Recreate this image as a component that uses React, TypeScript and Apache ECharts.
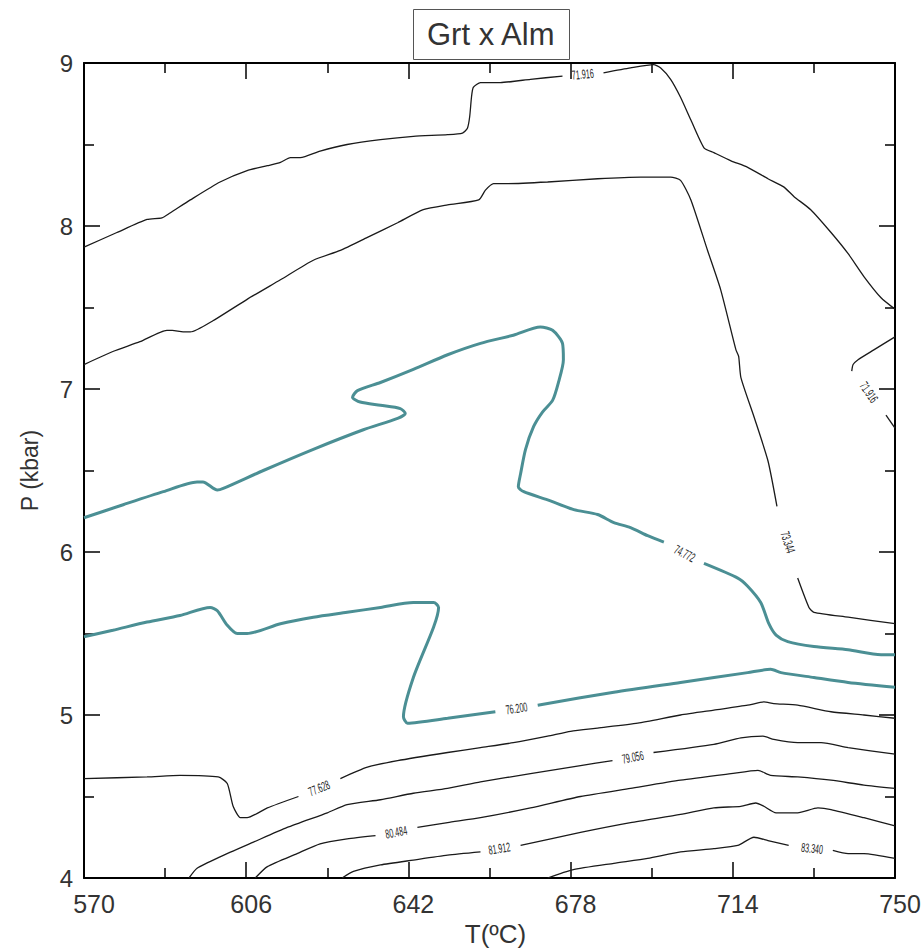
import React, { useEffect, useRef } from "react";
import * as echarts from "echarts";

// Axis ticks
const tempTicks = [570, 606, 642, 678, 714, 750];
const tempMinorTicks = [588, 624, 660, 696, 732];
const tempRange = [570, 750];
const pressureRange = [4, 9];

// Contour lines: [T (ºC), P (kbar)]; null marks the gap left for the inline label
type Pt = [number, number] | null;

const iso71916top: Pt[] = [
  [570, 7.87], [577.3, 7.96], [584.0, 8.04], [587.3, 8.05], [589.1, 8.08], [593.6, 8.16], [600.2, 8.27],
  [606.2, 8.34], [610.7, 8.37], [613.6, 8.39], [615.8, 8.42], [618.0, 8.42], [622.4, 8.46], [628.4, 8.5],
  [635.8, 8.53], [643.1, 8.55], [650.7, 8.56], [654.0, 8.57], [655.1, 8.6], [655.6, 8.67], [656.0, 8.79],
  [656.4, 8.85], [658.0, 8.88], [662.4, 8.88], [669.1, 8.9], [676.2, 8.92], null,
  [685.3, 8.94], [691.3, 8.97], [696.4, 8.99], [698.0, 8.97], [700.2, 8.9], [702.4, 8.79], [704.7, 8.65],
  [707.6, 8.48], [709.8, 8.45], [713.6, 8.4], [717.3, 8.36], [721.8, 8.29], [725.3, 8.24], [727.6, 8.18],
  [731.3, 8.1], [735.8, 7.96], [739.6, 7.83], [743.1, 7.69], [746.9, 7.56], [750, 7.49],
];

const iso73344: Pt[] = [
  [570, 7.15], [576.4, 7.23], [582.4, 7.29], [588.4, 7.36], [589.6, 7.36], [592.0, 7.35], [593.6, 7.35],
  [598.7, 7.42], [606.2, 7.55], [613.6, 7.67], [620.9, 7.79], [626.9, 7.85], [632.9, 7.93], [639.6, 8.02],
  [645.3, 8.1], [650.7, 8.13], [657.6, 8.16], [659.1, 8.22], [660.9, 8.26], [664.0, 8.26], [672.9, 8.27],
  [684.0, 8.29], [693.6, 8.3], [700.2, 8.3], [702.4, 8.28], [704.7, 8.16], [708.4, 7.85], [711.3, 7.61],
  [714.7, 7.24], [715.3, 7.2], [715.8, 7.07], [718.7, 6.83], [721.8, 6.56], [723.8, 6.28], null,
  [728.4, 5.84], [730.9, 5.66], [732.0, 5.63], [739.6, 5.6], [750, 5.56],
];

const iso71916right: Pt[] = [
  [750, 7.32], [745.3, 7.24], [741.8, 7.18], [740.7, 7.15], [740.4, 7.11], null,
  [748.0, 6.84], [750, 6.76],
];

const iso74772: Pt[] = [
  [570, 6.21], [578.7, 6.29], [587.6, 6.37], [595.1, 6.43], [596.4, 6.43], [599.6, 6.38], [600.9, 6.39],
  [609.8, 6.5], [620.9, 6.63], [632.0, 6.75], [639.6, 6.82], [641.3, 6.85], [640.2, 6.88], [635.8, 6.9],
  [631.3, 6.92], [629.6, 6.95], [630.7, 6.99], [635.8, 7.04], [643.1, 7.12], [650.7, 7.21], [658.0, 7.28],
  [665.3, 7.33], [671.3, 7.38], [674.0, 7.36], [676.2, 7.28], [676.4, 7.18], [675.3, 7.04], [674.0, 6.93],
  [671.8, 6.86], [669.8, 6.77], [668.0, 6.63], [666.9, 6.48], [666.4, 6.4], [667.6, 6.37], [672.9, 6.32],
  [678.7, 6.26], [684.0, 6.23], [687.6, 6.18], [691.3, 6.15], [695.1, 6.1], [698.7, 6.06], null,
  [707.6, 5.93], [715.1, 5.84], [717.3, 5.79], [720.2, 5.69], [722.0, 5.56], [723.6, 5.49], [726.2, 5.45],
  [732.0, 5.42], [739.6, 5.4], [746.9, 5.37], [750, 5.37],
];

const iso76200: Pt[] = [
  [570, 5.48], [576.4, 5.52], [584.0, 5.57], [591.3, 5.61], [598.0, 5.66], [599.6, 5.64], [601.8, 5.55],
  [604.0, 5.5], [606.2, 5.5], [613.6, 5.56], [620.9, 5.6], [628.4, 5.63], [635.8, 5.66], [643.1, 5.69],
  [647.6, 5.69], [648.7, 5.66], [647.6, 5.54], [643.1, 5.23], [640.9, 4.99], [641.8, 4.95], [650.7, 4.98],
  [661.3, 5.02], null,
  [670.7, 5.06], [687.6, 5.14], [702.4, 5.2], [717.3, 5.26], [722.4, 5.28], [724.7, 5.26], [732.0, 5.23],
  [739.6, 5.2], [750, 5.17],
];

const iso77628: Pt[] = [
  [570, 4.61], [584.0, 4.62], [591.3, 4.63], [599.8, 4.62], [601.8, 4.58], [603.1, 4.44], [604.7, 4.37],
  [606.2, 4.37], [610.7, 4.43], [617.6, 4.5], null,
  [626.9, 4.61], [632.9, 4.68], [639.6, 4.72], [650.7, 4.77], [658.0, 4.8], [665.3, 4.83], [672.9, 4.87],
  [678.0, 4.9], [684.0, 4.92], [692.9, 4.95], [702.4, 5.0], [709.8, 5.03], [717.3, 5.06], [720.9, 5.08],
  [723.1, 5.07], [728.4, 5.06], [735.8, 5.02], [743.1, 5.0], [750, 4.98],
];

const iso79056: Pt[] = [
  [593.3, 4.0], [595.1, 4.06], [600.2, 4.13], [607.6, 4.22], [615.1, 4.31], [624.0, 4.4], [628.4, 4.45],
  [635.8, 4.48], [643.1, 4.52], [650.7, 4.55], [658.0, 4.59], [669.1, 4.64], [680.2, 4.69], [687.3, 4.72], null,
  [696.4, 4.77], [709.8, 4.82], [715.8, 4.86], [720.7, 4.87], [723.1, 4.85], [728.4, 4.83], [733.6, 4.83],
  [739.6, 4.8], [750, 4.76],
];

const iso80484: Pt[] = [
  [608.0, 4.0], [610.7, 4.07], [617.3, 4.15], [622.4, 4.21], [628.4, 4.24], [634.7, 4.26], null,
  [644.0, 4.31], [650.7, 4.34], [658.0, 4.37], [669.1, 4.43], [680.2, 4.5], [691.3, 4.55], [702.4, 4.6],
  [713.6, 4.64], [719.6, 4.66], [722.4, 4.63], [728.4, 4.62], [735.8, 4.6], [743.1, 4.57], [750, 4.55],
];

const iso81912: Pt[] = [
  [627.3, 4.0], [629.8, 4.04], [635.8, 4.08], [643.1, 4.11], [650.7, 4.14], [658.0, 4.16], null,
  [666.9, 4.2], [680.2, 4.28], [691.3, 4.34], [702.4, 4.39], [709.8, 4.43], [715.8, 4.44], [719.1, 4.46],
  [720.9, 4.44], [723.6, 4.4], [728.4, 4.4], [732.9, 4.43], [735.8, 4.42], [743.1, 4.37], [750, 4.32],
];

const iso83340: Pt[] = [
  [672.9, 4.0], [678.4, 4.05], [687.6, 4.09], [695.1, 4.12], [702.4, 4.16], [709.8, 4.18], [715.1, 4.2],
  [718.7, 4.25], [721.8, 4.23], [726.4, 4.2], null,
  [736.2, 4.17], [739.6, 4.15], [743.1, 4.15], [750, 4.12],
];

const blackContours = [iso71916top, iso73344, iso71916right, iso77628, iso79056, iso80484, iso81912, iso83340];
const tealContours = [iso74772, iso76200];

// Inline contour labels
const labelTexts = ["71.916", "73.344", "71.916", "74.772", "76.200", "77.628", "79.056", "80.484", "81.912", "83.340"];
const labelT = [680.7, 726.2, 744.2, 703.3, 666.0, 622.2, 691.8, 639.3, 662.2, 731.6];
const labelP = [8.93, 6.06, 6.98, 5.99, 5.04, 4.55, 4.74, 4.28, 4.18, 4.18];
const labelAngle = [6, -72, -55, -27, 9, 23, 11, 11, 9, -6];

const TEAL = "#4b8f94";
const INK = "#1a1a1a";
const SANS = "'Liberation Sans', Arial, sans-serif";

function splitSegments(pts: Pt[]): [number, number][][] {
  const out: [number, number][][] = [];
  let cur: [number, number][] = [];
  for (const p of pts) {
    if (p === null) {
      if (cur.length) out.push(cur);
      cur = [];
    } else cur.push(p);
  }
  if (cur.length) out.push(cur);
  return out;
}

export default function App() {
  const ref = useRef<HTMLDivElement>(null);

  useEffect(() => {
    if (!ref.current) return;
    const chart = echarts.init(ref.current, undefined, { renderer: "svg" });

    const series: any[] = [];
    blackContours.forEach((c) => {
      splitSegments(c).forEach((seg) => {
        series.push({
          type: "line",
          data: seg,
          xAxisIndex: 0,
          yAxisIndex: 0,
          showSymbol: false,
          symbol: "none",
          smooth: 0.2,
          lineStyle: { color: INK, width: 1.3 },
          silent: true,
          z: 3,
        });
      });
    });
    tealContours.forEach((c) => {
      splitSegments(c).forEach((seg) => {
        series.push({
          type: "line",
          data: seg,
          xAxisIndex: 0,
          yAxisIndex: 0,
          showSymbol: false,
          symbol: "none",
          smooth: 0.25,
          lineStyle: { color: TEAL, width: 3 },
          silent: true,
          z: 4,
        });
      });
    });

    const majorX = {
      type: "value",
      min: tempRange[0],
      max: tempRange[1],
      gridIndex: 0,
      splitLine: { show: false },
    };

    chart.setOption({
      animation: false,
      backgroundColor: "#ffffff",
      title: {
        text: "Grt x Alm",
        left: 413,
        top: 9,
        padding: [10, 14],
        borderColor: "#555",
        borderWidth: 1,
        textStyle: { fontSize: 31, fontWeight: "normal", color: "#333", fontFamily: SANS },
      },
      grid: { left: 84, right: 27, top: 63, bottom: 70, containLabel: false, outerBoundsMode: "none" },
      xAxis: [
        {
          ...majorX,
          position: "bottom",
          name: "T(ºC)",
          nameLocation: "middle",
          nameGap: 34,
          nameTextStyle: { fontSize: 26, color: "#333", fontFamily: SANS, padding: [0, 0, 0, 12] },
          axisLine: { show: true, onZero: false, lineStyle: { color: "#000", width: 2 } },
          axisTick: { show: true, inside: true, length: 16, customValues: tempTicks, lineStyle: { color: "#000", width: 1.5 } },
          axisLabel: {
            show: true,
            customValues: tempTicks,
            margin: 13,
            fontSize: 25,
            color: "#333",
            fontFamily: SANS,
            formatter: (v: number) => (v === tempTicks[0] ? `{first|${v}}` : `{rest|${v}}`),
            rich: {
              first: { fontSize: 25, color: "#333", fontFamily: SANS, padding: [0, 0, 0, 20] },
              rest: { fontSize: 25, color: "#333", fontFamily: SANS, padding: [0, 0, 0, 10] },
            },
          },
        },
        {
          ...majorX,
          position: "bottom",
          axisLine: { show: false, onZero: false },
          axisTick: { show: true, inside: true, length: 10, customValues: tempMinorTicks, lineStyle: { color: "#000", width: 1.5 } },
          axisLabel: { show: false },
        },
        {
          ...majorX,
          position: "top",
          axisLine: { show: true, onZero: false, lineStyle: { color: "#000", width: 2 } },
          axisTick: { show: true, inside: true, length: 16, customValues: tempTicks, lineStyle: { color: "#000", width: 1.5 } },
          axisLabel: { show: false },
        },
        {
          ...majorX,
          position: "top",
          axisLine: { show: false, onZero: false },
          axisTick: { show: true, inside: true, length: 10, customValues: tempMinorTicks, lineStyle: { color: "#000", width: 1.5 } },
          axisLabel: { show: false },
        },
      ],
      yAxis: [
        {
          type: "value",
          position: "left",
          min: pressureRange[0],
          max: pressureRange[1],
          interval: 1,
          name: "P (kbar)",
          nameLocation: "middle",
          nameGap: 43,
          nameTextStyle: { fontSize: 23, color: "#333", fontFamily: SANS },
          splitLine: { show: false },
          axisLine: { show: true, onZero: false, lineStyle: { color: "#000", width: 2 } },
          axisTick: { show: true, inside: true, length: 16, lineStyle: { color: "#000", width: 1.5 } },
          minorTick: { show: true, splitNumber: 2, length: 10, lineStyle: { color: "#000", width: 1.5 } },
          axisLabel: { margin: 11, fontSize: 24, color: "#333", fontFamily: SANS },
        },
        {
          type: "value",
          position: "right",
          min: pressureRange[0],
          max: pressureRange[1],
          interval: 1,
          splitLine: { show: false },
          axisLine: { show: true, onZero: false, lineStyle: { color: "#000", width: 2 } },
          axisTick: { show: true, inside: true, length: 16, lineStyle: { color: "#000", width: 1.5 } },
          minorTick: { show: true, splitNumber: 2, length: 10, lineStyle: { color: "#000", width: 1.5 } },
          axisLabel: { show: false },
        },
      ],
      series,
    });

    // Inline contour labels, placed through the chart's own coordinate system,
    // drawn condensed (scaleX) like the reference's narrow label font.
    const graphics = labelTexts.map((t, i) => {
      const [px, py] = chart.convertToPixel({ xAxisIndex: 0, yAxisIndex: 0 }, [labelT[i], labelP[i]]) as number[];
      return {
        type: "text",
        x: px,
        y: py,
        rotation: (labelAngle[i] * Math.PI) / 180,
        scaleX: 0.55,
        silent: true,
        z: 10,
        style: {
          text: t,
          fontSize: 13,
          fontFamily: SANS,
          fill: "#222",
          align: "center",
          verticalAlign: "middle",
        },
      };
    });
    chart.setOption({ graphic: graphics });

    return () => chart.dispose();
  }, []);

  return (
    <div
      ref={ref}
      style={{ position: "fixed", left: 0, top: 0, width: 922, height: 948, background: "#fff" }}
    />
  );
}
